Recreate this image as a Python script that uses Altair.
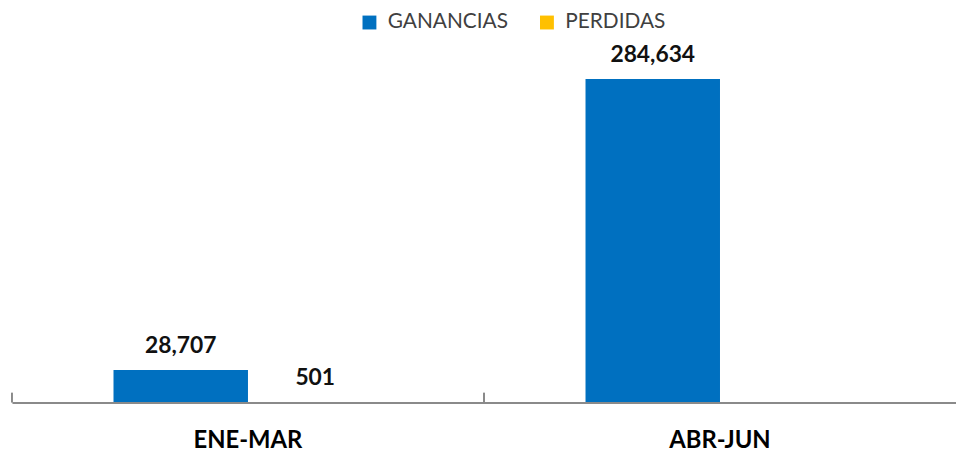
import altair as alt
import pandas as pd

periods = ["ENE-MAR", "ABR-JUN"]
series = ["GANANCIAS", "PERDIDAS"]
ganancias = [28707, 284634]
perdidas = [501, None]
colors = ["#0070C0", "#FFC000"]

rows = []
for i, p in enumerate(periods):
    rows.append({"periodo": p, "serie": series[0], "valor": ganancias[i]})
    rows.append({"periodo": p, "serie": series[1], "valor": perdidas[i]})
df = pd.DataFrame(rows)
df["etiqueta"] = df["valor"].apply(lambda v: "" if pd.isna(v) else f"{int(v):,}")

W, H = 952, 344
FONT = "Lato"

x_scale = alt.Scale(paddingInner=0, paddingOuter=0)
x_enc = alt.X("periodo:N", sort=periods, scale=x_scale,
              axis=alt.Axis(title=None, labelAngle=0, labelFontSize=24, labelFontWeight="bold",
                            labelColor="#000000", labelFont=FONT, labelPadding=45,
                            labelBaseline="alphabetic", zindex=1,
                            ticks=False, tickSize=0, domainColor="#8a8a8a", domainWidth=2,
                            grid=False))
xoff = alt.XOffset("serie:N", sort=series,
                   scale=alt.Scale(domain=series, paddingInner=0, paddingOuter=0.755))
y_enc = alt.Y("valor:Q", scale=alt.Scale(domain=[0, 300000]), axis=None)

bars = alt.Chart(df).mark_bar().encode(
    x=x_enc, xOffset=xoff, y=y_enc,
    color=alt.Color("serie:N", sort=series,
                    scale=alt.Scale(domain=series, range=colors),
                    legend=alt.Legend(title=None, orient="none", direction="horizontal",
                                      legendX=350, legendY=-50, symbolType="square",
                                      symbolSize=196, symbolStrokeWidth=0, symbolOpacity=1,
                                      labelFontSize=21, labelFont=FONT, labelColor="#404040",
                                      columnPadding=28, labelOffset=8)),
)

labels = alt.Chart(df).transform_filter("datum.valor != null").mark_text(
    fontSize=23, fontWeight="bold", font=FONT, color="#111111", baseline="alphabetic", dy=-17
).encode(x=x_enc, xOffset=xoff, y=y_enc, text="etiqueta:N")

ticks = alt.Chart(pd.DataFrame({"periodo": periods})).mark_rule(
    color="#8a8a8a", strokeWidth=2
).encode(
    x=alt.X("periodo:N", sort=periods, bandPosition=0, scale=x_scale),
    y=alt.value(H - 10), y2=alt.value(H),
)

chart = alt.layer(bars, labels, ticks).properties(
    width=W, height=H,
    background="#ffffff",
    autosize=alt.AutoSizeParams(type="none"),
    padding={"left": 4, "top": 52, "right": 0, "bottom": 52},
).configure_view(strokeWidth=0)

chart.save("out.html", embed_options={"renderer": "svg", "actions": False})
